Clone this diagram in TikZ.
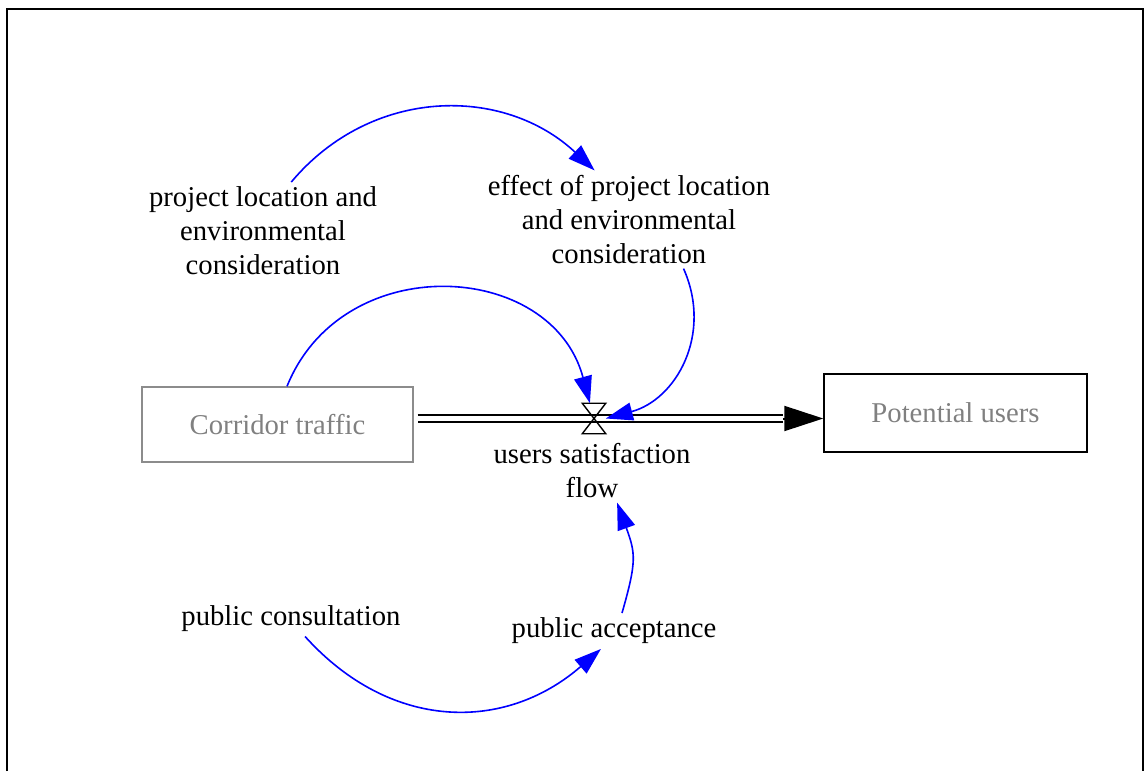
\documentclass[tikz,border=0pt]{standalone}
\usepackage{fontspec}
\setmainfont{Liberation Serif}
\usetikzlibrary{arrows.meta}
\definecolor{linkblue}{RGB}{0,0,255}
\definecolor{stockgray}{RGB}{140,140,140}
\definecolor{textgray}{RGB}{128,128,128}

\begin{document}
\begin{tikzpicture}[x=0.025cm,y=0.025cm,
  every node/.style={font=\fontsize{20.4pt}{24.1pt}\selectfont,align=center},
  stock/.style={draw,line width=0.035cm,text=textgray},
  valvebox/.style={minimum width=0.575cm,minimum height=0.75cm,inner sep=0pt},
  link/.style={draw=linkblue,line width=0.04cm,-{Triangle[length=0.675cm,width=0.45cm]}},
  pipe/.style={double,line width=0.05cm,double distance=0.125cm}]
\useasboundingbox (0,0) rectangle (1148,771);
\draw[line width=0.05cm] (7,0)--(7,762)--(1143,762)--(1143,0);

\node[stock,draw=stockgray,minimum width=6.775cm,minimum height=1.875cm] (ct) at (277.5,346.5){Corridor traffic};
\node[stock,minimum width=6.575cm,minimum height=1.95cm] (pu) at (955.5,358){Potential users};
\node[valvebox] (valve) at (594,352.5){};
\node (usf) at (592,300.5){users satisfaction\\flow};
\node (plec) at (263,540){project location and\\environmental\\consideration};
\node (eplec) at (629,551.5){effect of project location\\and environmental\\consideration};
\node (pc) at (291,152.5){public consultation};
\node (pa) at (614,140){public acceptance};

\draw[line width=0.05cm,-{Triangle[length=0.975cm,width=0.625cm]}] (valve.center)--(pu.west |- valve);
\draw[pipe,shorten <=0.1cm,shorten >=1cm] (ct.east |- valve)--(pu.west |- valve);
\draw[line width=0.035cm] (valve.north west)--(valve.north east)--(valve.south west)--(valve.south east)--cycle;

\draw[link] (plec.60) to[out=50,in=137,looseness=1.05] (eplec.125);
\draw[link] (ct.76) to[out=68,in=105,looseness=1.25] (valve);
\draw[link] (eplec.-42) to[out=-66,in=15,looseness=1.1] (valve.east);
\draw[link] (pc.-52) to[out=-48,in=-139,looseness=1.1] (pa.-126);
\draw[link] (pa.66) to[out=74,in=-70,looseness=1.25] (usf.-52);
\end{tikzpicture}
\end{document}
